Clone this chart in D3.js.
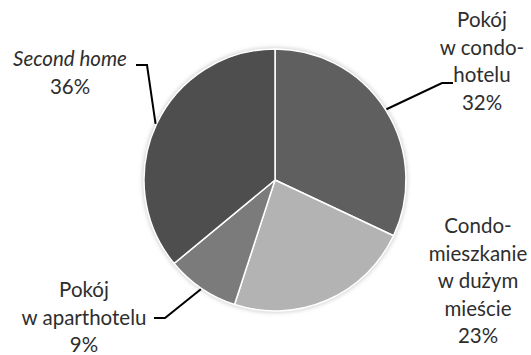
<!DOCTYPE html>
<html>
<head>
<meta charset="utf-8">
<script src="https://cdn.jsdelivr.net/npm/d3@7"></script>
<style>
  body { margin: 0; background: #fff; }
  svg text { font-family: "Lato", sans-serif; font-size: 20.5px; fill: #2e2e2e; }
</style>
</head>
<body>
<div id="chart"></div>
<script>
// Data
const categories = ["Pokój w condohotelu", "Condo-mieszkanie w dużym mieście", "Pokój w aparthotelu", "Second home"];
const values = [32, 23, 9, 36];
const labelLines = [
    ["Pokój", "w condo-", "hotelu", "32%"],
    ["Condo-", "mieszkanie", "w dużym", "mieście", "23%"],
    ["Pokój", "w aparthotelu", "9%"],
    ["Second home", "36%"]
];
const colors = ["#5f5f5f", "#b3b3b3", "#7a7b7a", "#4e4e4e"];

// Layout for labels: text center + first baseline, leader elbow (null = no leader)
const labelPos = [
    {x: 482, y: 27, italic: [], elbow: [442, 83], end: [453, 83]},
    {x: 478, y: 233, italic: [], elbow: null},
    {x: 84, y: 297, italic: [], elbow: [165, 318], end: [154, 318]},
    {x: 70, y: 66, italic: [0], elbow: [147, 65], end: [136, 65]}
];

var width = 531, height = 355;
var cx = 275, cy = 180, radius = 131;

var svg = d3.select("#chart")
    .append("svg")
    .attr("width", width)
    .attr("height", height);

var defs = svg.append("defs");
defs.append("filter")
    .attr("id", "glow")
    .attr("x", "-20%").attr("y", "-20%")
    .attr("width", "140%").attr("height", "140%")
    .append("feGaussianBlur")
    .attr("stdDeviation", 2);

var g = svg.append("g")
    .attr("transform", `translate(${cx},${cy})`);

// soft edge shadow
g.append("circle")
    .attr("r", radius + 1.5)
    .attr("fill", "#cfcfcf")
    .attr("filter", "url(#glow)");

var pie = d3.pie().sort(null).value(d => d);
var arcs = pie(values);

var arc = d3.arc().innerRadius(0).outerRadius(radius);
var edgeArc = d3.arc().innerRadius(radius + 1).outerRadius(radius + 1);

g.selectAll("path.slice")
    .data(arcs)
    .enter().append("path")
    .attr("class", "slice")
    .attr("d", arc)
    .attr("fill", (d, i) => colors[i])
    .attr("stroke", "#fff")
    .attr("stroke-width", 1.5)
    .attr("stroke-linejoin", "round");

// Leader lines
arcs.forEach(function(d, i) {
    var p = labelPos[i];
    if (!p.elbow) return;
    var c = edgeArc.centroid(d);
    var start = [c[0] + cx, c[1] + cy];
    svg.append("polyline")
        .attr("points", [start, p.elbow, p.end].map(q => q.join(",")).join(" "))
        .attr("fill", "none")
        .attr("stroke", "#000")
        .attr("stroke-width", 2);
});

// Labels
labelLines.forEach(function(lines, i) {
    var p = labelPos[i];
    var t = svg.append("text")
        .attr("text-anchor", "middle");
    lines.forEach(function(line, j) {
        t.append("tspan")
            .attr("x", p.x)
            .attr("y", p.y + j * 27.5)
            .style("font-style", p.italic.includes(j) ? "italic" : "normal")
            .text(line);
    });
});
</script>
</body>
</html>
